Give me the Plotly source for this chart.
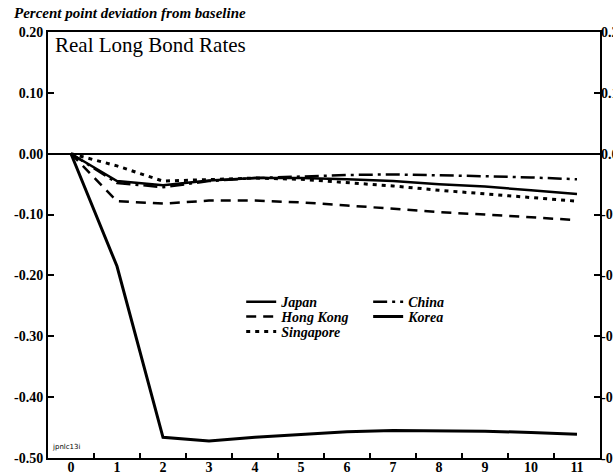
import plotly.graph_objects as go

periods = list(range(12))
x_tick_labels = [str(p) for p in periods]
y_tick_vals = [0.20, 0.10, 0.00, -0.10, -0.20, -0.30, -0.40, -0.50]
y_tick_text = ["0.20", "0.10", "0.00", "-0.10", "-0.20", "-0.30", "-0.40", "-0.50"]
minor_tick_vals = [p + 0.5 for p in range(11)]

korea = [0.0, -0.185, -0.466, -0.472, -0.466, -0.461, -0.457, -0.455, -0.455, -0.456, -0.458, -0.461]
japan = [0.0, -0.045, -0.052, -0.044, -0.040, -0.040, -0.042, -0.045, -0.050, -0.054, -0.060, -0.066]
china = [0.0, -0.048, -0.055, -0.045, -0.040, -0.037, -0.035, -0.034, -0.035, -0.037, -0.039, -0.042]
hong_kong = [0.0, -0.078, -0.082, -0.077, -0.077, -0.080, -0.085, -0.091, -0.096, -0.100, -0.105, -0.109]
singapore = [0.0, -0.020, -0.045, -0.042, -0.040, -0.042, -0.047, -0.053, -0.060, -0.066, -0.072, -0.078]

SERIF = "Liberation Serif"

fig = go.Figure()
series = [
    ("Korea", korea, dict(color="black", width=3, dash="solid"), "legend5"),
    ("Japan", japan, dict(color="black", width=2.5, dash="solid"), "legend"),
    ("China", china, dict(color="black", width=2.5, dash="14px,5px,3px,5px"), "legend4"),
    ("Hong Kong", hong_kong, dict(color="black", width=2.5, dash="10px,7px"), "legend2"),
    ("Singapore", singapore, dict(color="black", width=3, dash="4px,5px"), "legend3"),
]
for name, vals, line, lg in series:
    fig.add_trace(go.Scatter(x=periods, y=vals, mode="lines", name=name, line=line,
                             legend=lg, showlegend=True))

# invisible traces to drive secondary axes (right y axis, half-position x ticks)
fig.add_trace(go.Scatter(x=[periods[0]], y=[0], yaxis="y2", mode="lines",
                         line=dict(width=0), showlegend=False, hoverinfo="skip"))
fig.add_trace(go.Scatter(x=[periods[0]], y=[0], xaxis="x2", mode="lines",
                         line=dict(width=0), showlegend=False, hoverinfo="skip"))

legend_font = dict(family=SERIF, size=14, color="black", style="italic", weight="bold")
def lg(x, y):
    return dict(x=x, y=y, xanchor="left", yanchor="middle", bgcolor="rgba(0,0,0,0)",
                font=legend_font, borderwidth=0)

tick_font = dict(family=SERIF, size=14, color="black", weight="bold")

fig.update_layout(
    width=613, height=476,
    margin=dict(l=48, r=13, t=32, b=18, autoexpand=False),
    paper_bgcolor="white", plot_bgcolor="white",
    showlegend=True,
    legend=lg(0.350, 0.366),
    legend2=lg(0.350, 0.331),
    legend3=lg(0.350, 0.296),
    legend4=lg(0.580, 0.366),
    legend5=lg(0.580, 0.331),
    xaxis=dict(range=[-0.5, 11.5], tickmode="array", tickvals=periods, ticktext=x_tick_labels,
               ticks="", showgrid=False, zeroline=False, showline=True, linecolor="black",
               linewidth=2, mirror=True, automargin=False, ticklabelstandoff=-5,
               tickfont=tick_font),
    xaxis2=dict(range=[-0.5, 11.5], overlaying="x", side="bottom", tickmode="array",
                tickvals=minor_tick_vals, showticklabels=False, ticks="inside",
                ticklen=5, tickwidth=1.5, tickcolor="black", showgrid=False,
                zeroline=False, showline=False, automargin=False),
    yaxis=dict(range=[-0.5, 0.2], tickmode="array", tickvals=y_tick_vals, ticktext=y_tick_text,
               ticks="inside", ticklen=6, tickwidth=1.5, tickcolor="black",
               showgrid=False, zeroline=True, zerolinecolor="black", zerolinewidth=1.5,
               showline=True, linecolor="black", linewidth=2, mirror=True, automargin=False,
               tickfont=tick_font),
    yaxis2=dict(range=[-0.5, 0.2], overlaying="y", side="right", tickmode="array",
                tickvals=y_tick_vals, ticktext=y_tick_text,
                ticks="inside", ticklen=6, tickwidth=1.5, tickcolor="black",
                showgrid=False, zeroline=False, showline=False, automargin=False,
                tickfont=tick_font),
    annotations=[
        dict(text="Real Long Bond Rates", x=0.009, y=0.969, xref="paper", yref="paper",
             xanchor="left", yanchor="middle", showarrow=False,
             font=dict(family=SERIF, size=21, color="black")),
        dict(text="Percent point deviation from baseline", x=-0.065, y=1.045,
             xref="paper", yref="paper", xanchor="left", yanchor="middle", showarrow=False,
             font=dict(family=SERIF, size=15, color="black", style="italic", weight="bold")),
        dict(text="jpnlc13i", x=0.004, y=0.026, xref="paper", yref="paper",
             xanchor="left", yanchor="middle", showarrow=False,
             font=dict(family="DejaVu Sans", size=7, color="black")),
    ],
)

fig.write_html("out.html")
